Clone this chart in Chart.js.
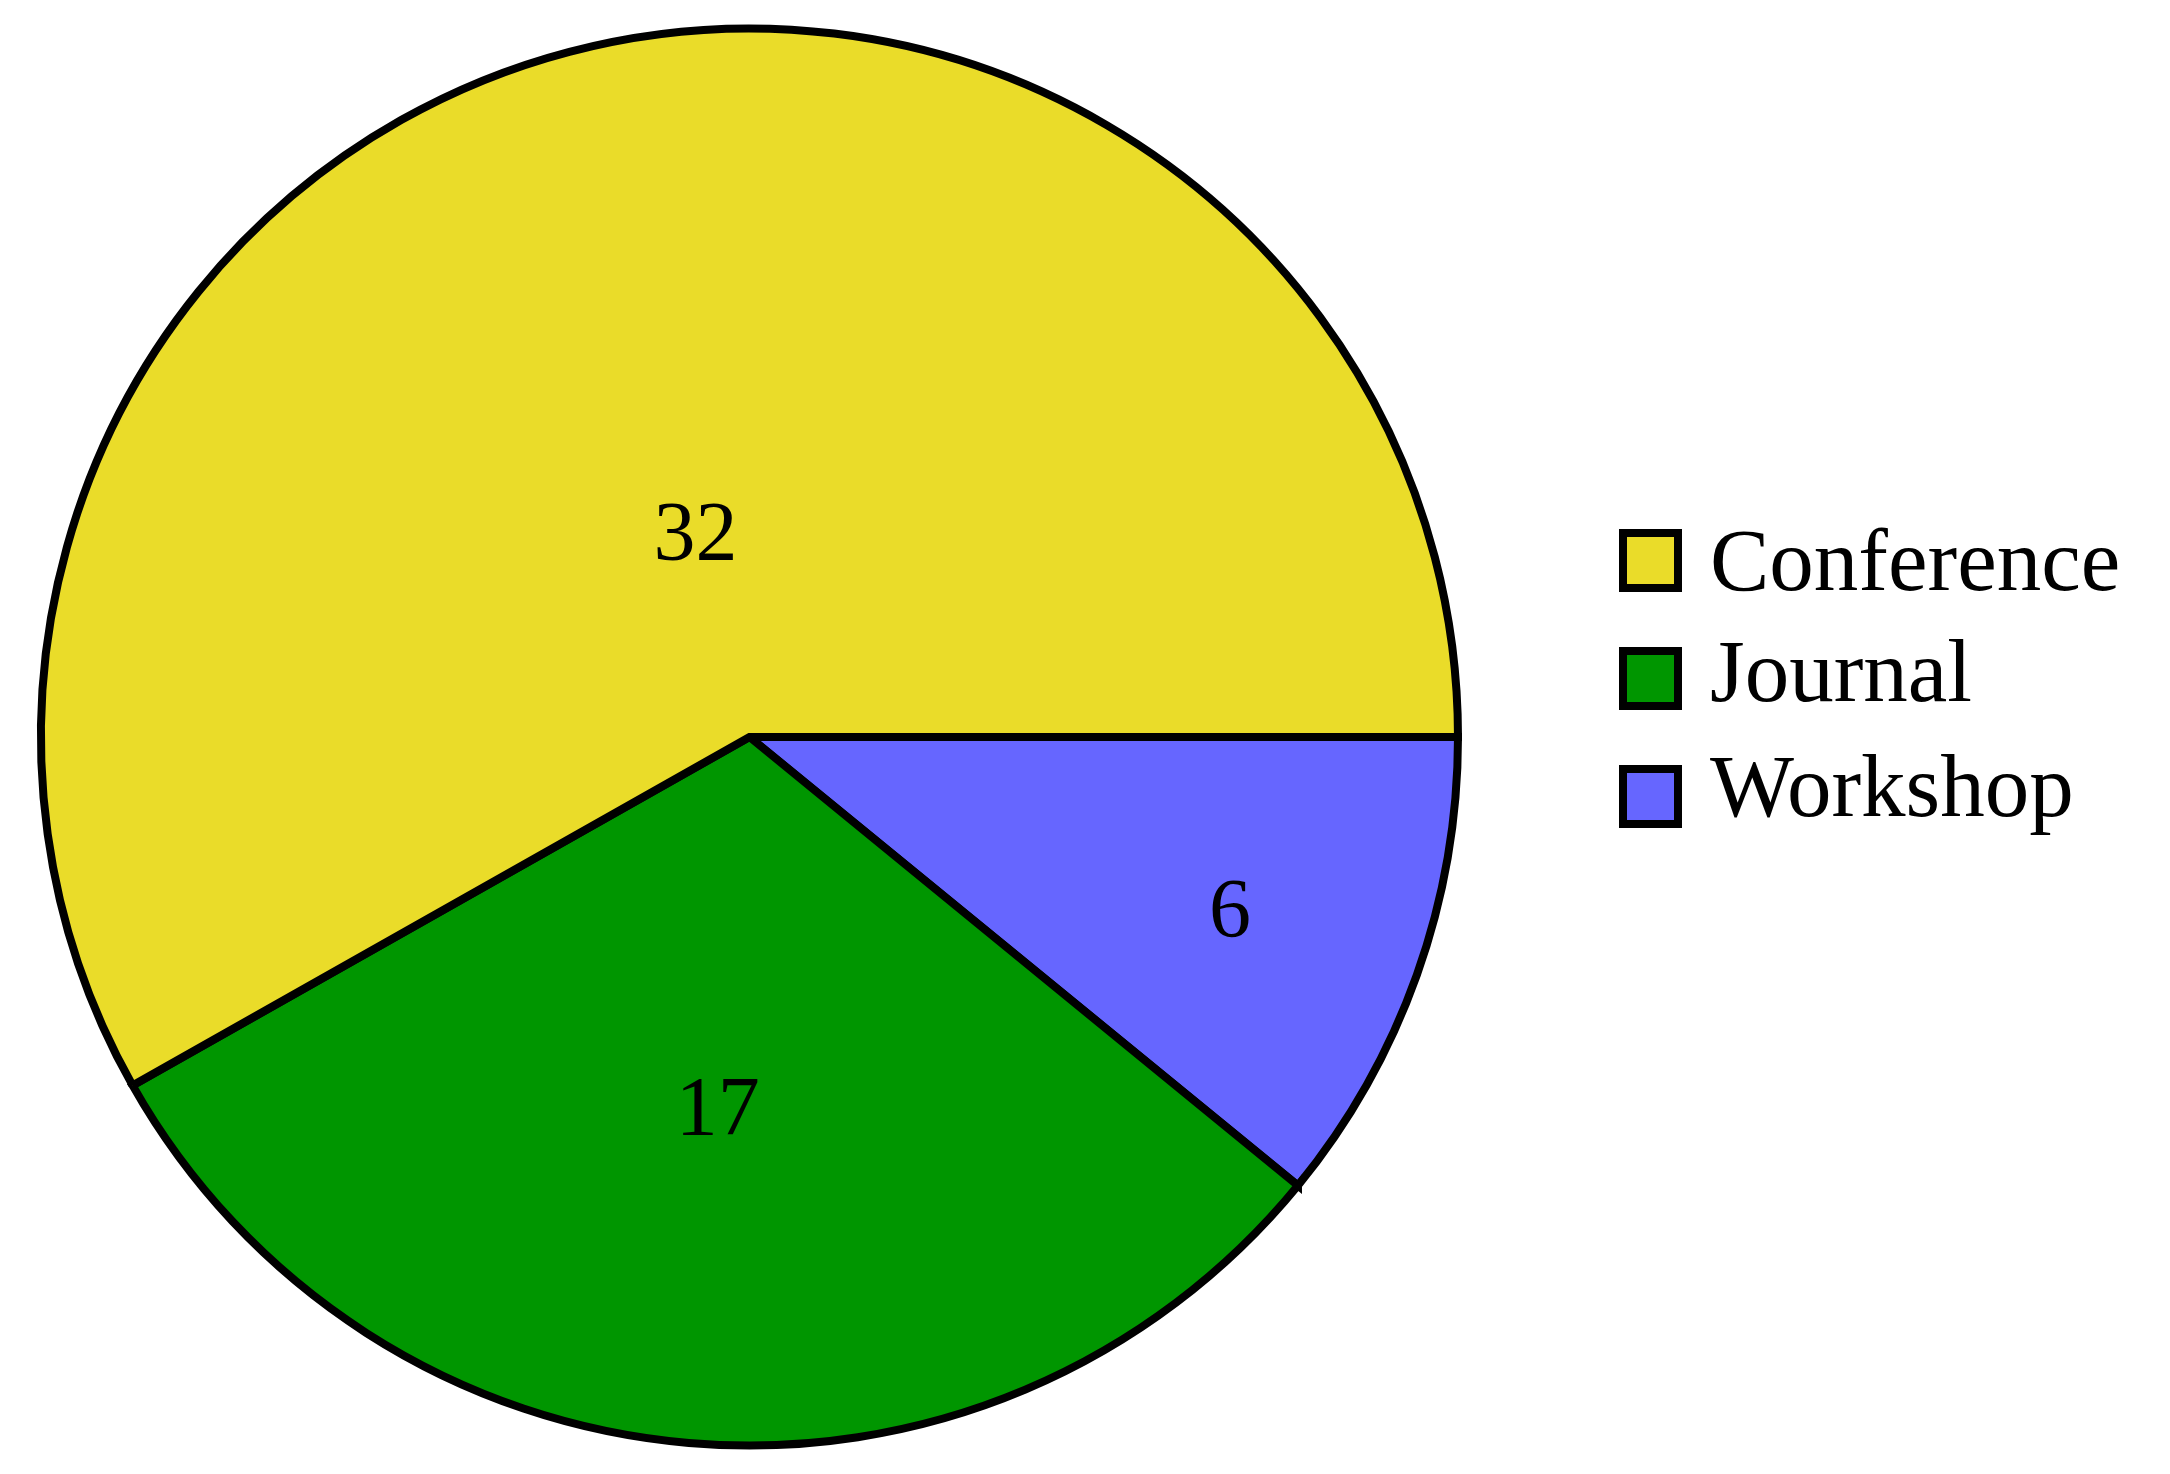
<!DOCTYPE html>
<html>
<head>
<meta charset="utf-8">
<script src="https://cdn.jsdelivr.net/npm/chart.js@4.4.1/dist/chart.umd.min.js"></script>
<style>
  body { margin: 0; background: #fff; }
  #wrap { position: relative; width: 2170px; height: 1474px; }
  #pie { position: absolute; left: 0; top: 0; }
  .legend-box { position: absolute; left: 1619px; width: 63px; height: 63px; box-sizing: border-box; border: 8px solid #000; }
  .legend-text { position: absolute; left: 1710px; font-family: "Liberation Serif", serif; font-size: 89px; line-height: 89px; color: #000; white-space: nowrap; }
</style>
</head>
<body>
<div id="wrap">
  <canvas id="pie" width="1499" height="1474"></canvas>
  <div id="legend"></div>
</div>
<script>
// data
const categories = ["Conference", "Journal", "Workshop"];
const counts = [32, 17, 6];
const sliceColors = ["#EADC29", "#009600", "#6666FF"];

// pgf-pie style slices go counter-clockwise from east, chart.js goes clockwise,
// so feed the slices reversed and start at 3 o'clock
const chartLabels = categories.slice().reverse();
const chartValues = counts.slice().reverse();
const chartColors = sliceColors.slice().reverse();

// numbers inside slices, distance depends on slice size (like pgf-pie)
const sliceNumbers = {
  id: "sliceNumbers",
  afterDatasetsDraw(chart) {
    const ctx = chart.ctx;
    const meta = chart.getDatasetMeta(0);
    ctx.save();
    ctx.font = "84px 'Liberation Serif', serif";
    ctx.fillStyle = "#000";
    ctx.textAlign = "center";
    ctx.textBaseline = "alphabetic";
    meta.data.forEach((arc, i) => {
      const p = arc.getProps(["x", "y", "startAngle", "endAngle", "outerRadius"], true);
      const spanDeg = (p.endAngle - p.startAngle) * 180 / Math.PI;
      let f = Math.min(-(spanDeg - 10) / 110 * 0.3, 0);
      f = Math.max(f, -0.5) + 0.8;
      const mid = (p.startAngle + p.endAngle) / 2;
      const r = f * p.outerRadius;
      const txt = String(chart.data.datasets[0].data[i]);
      const m = ctx.measureText(txt);
      const h = m.actualBoundingBoxAscent;
      ctx.fillText(txt, p.x + Math.cos(mid) * r, p.y + Math.sin(mid) * r + h / 2);
    });
    ctx.restore();
  }
};

new Chart(document.getElementById("pie"), {
  type: "pie",
  data: {
    labels: chartLabels,
    datasets: [{
      data: chartValues,
      backgroundColor: chartColors,
      borderColor: "#000",
      borderWidth: 8,
      borderJoinStyle: "miter",
    }],
  },
  options: {
    responsive: false,
    animation: false,
    rotation: 90,
    layout: { padding: { top: 24.5, bottom: 24.5, left: 0, right: 0 } },
    plugins: {
      legend: { display: false },
      tooltip: { enabled: false },
    },
  },
  plugins: [sliceNumbers],
});

// legend on the right, in the original order
const legend = document.getElementById("legend");
const boxTops = [529, 647, 765];
const textTops = [515.5, 626.5, 741.5];
categories.forEach((c, i) => {
  const box = document.createElement("div");
  box.className = "legend-box";
  box.style.top = boxTops[i] + "px";
  box.style.background = sliceColors[i];
  legend.appendChild(box);
  const t = document.createElement("div");
  t.className = "legend-text";
  t.style.top = textTops[i] + "px";
  t.textContent = c;
  legend.appendChild(t);
});
</script>
</body>
</html>
